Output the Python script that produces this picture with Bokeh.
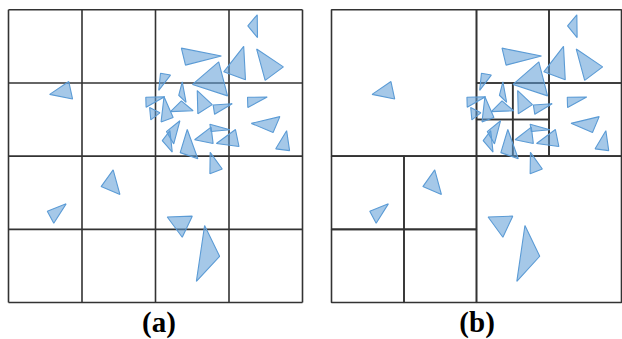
from bokeh.plotting import figure
from bokeh.layouts import row
from bokeh.models import Range1d
from bokeh.core.properties import value
from bokeh.embed import file_html
from bokeh.resources import INLINE

# Triangle vertices in a 0..100 domain (x to the right, y upward)
tri_x = [
    [84.6, 81.4, 84.7], [58.8, 72.4, 60.2], [80.0, 73.2, 80.6], [84.4, 93.5, 87.3],
    [71.5, 62.6, 74.5], [51.7, 55.1, 51.1], [46.7, 53.1, 46.8], [48.0, 51.5, 48.4],
    [52.9, 56.0, 51.9], [59.1, 57.9, 60.4], [55.1, 58.8, 62.8], [64.2, 69.3, 64.4],
    [69.6, 76.1, 70.1], [81.3, 88.0, 81.4], [82.6, 92.3, 90.0], [94.6, 95.6, 90.9],
    [63.3, 68.9, 69.6], [68.5, 75.3, 68.9], [70.7, 77.2, 78.4], [58.4, 60.8, 64.4],
    [68.6, 72.7, 68.5], [53.7, 58.3, 56.2], [52.3, 54.9, 55.7], [14.0, 20.5, 21.8],
    [35.6, 31.5, 37.9], [13.2, 19.6, 15.4], [54.0, 62.5, 59.1], [66.7, 71.8, 63.9],
]
tri_y = [
    [98.3, 94.5, 90.5], [86.9, 84.2, 81.1], [87.5, 78.8, 76.1], [86.6, 80.5, 75.9],
    [82.2, 74.5, 70.6], [78.3, 77.7, 72.5], [70.1, 70.3, 66.7], [66.6, 64.8, 62.4],
    [70.3, 63.2, 61.7], [75.4, 70.8, 68.4], [65.2, 68.9, 65.5], [72.4, 67.6, 64.5],
    [67.5, 67.9, 64.3], [70.1, 70.2, 66.6], [61.2, 63.5, 58.1], [58.7, 51.9, 52.5],
    [55.6, 59.9, 54.3], [60.9, 59.0, 58.4], [54.3, 59.1, 53.3], [51.2, 59.1, 49.1],
    [51.3, 45.6, 44.0], [58.4, 62.1, 54.2], [55.3, 58.7, 51.4], [71.1, 75.5, 69.5],
    [45.3, 39.6, 36.9], [31.2, 33.7, 27.1], [29.2, 29.5, 22.3], [26.3, 15.8, 7.2],
]

# (a) uniform grid: cell boundaries
grid_edges = [0, 25, 50, 75, 100]

# (b) quadtree leaf cells: left, right, bottom, top
qt_left   = [0,  0,  25, 0,  25, 50,  50, 75,  75,  50,   62.5, 50,   62.5]
qt_right  = [50, 25, 50, 25, 50, 100, 75, 100, 100, 62.5, 75,   62.5, 75]
qt_bottom = [50, 25, 25, 0,  0,  0,   75, 75,  50,  62.5, 62.5, 50,   50]
qt_top    = [100, 50, 50, 25, 25, 50, 100, 100, 75, 75,   75,   62.5, 62.5]

panel_labels = ["(a)", "(b)"]

FILL = "#5B9BD5"
EDGE = "#5B9BD5"
GRID = "#333333"
H = 339
SY = 2.927
Y_TOP = 100 + 9.3 / SY


def base_fig(width, x_start, sx):
    p = figure(width=width, height=H,
               x_range=Range1d(x_start, x_start + width / sx),
               y_range=Range1d(Y_TOP - H / SY, Y_TOP),
               x_axis_type=None, y_axis_type=None,
               output_backend="svg", toolbar_location=None,
               min_border=0, outline_line_color=None,
               background_fill_color="white", border_fill_color="white")
    p.grid.visible = False
    return p


def add_triangles(p):
    p.patches(xs=tri_x, ys=tri_y, fill_color=FILL, fill_alpha=0.55,
              line_color=EDGE, line_width=1.1)


def add_label(p, text, x):
    p.text(x=[x], y=[Y_TOP - 321 / SY], text=[text],
           text_font=value("Liberation Serif"),
           text_font_size="29px", text_font_style="bold", text_color="black",
           text_align="center", text_baseline="middle")


# Panel (a)
sxa = 2.94
pa = base_fig(310, -8 / sxa, sxa)
lo, hi = grid_edges[0], grid_edges[-1]
pa.segment(x0=grid_edges, y0=[lo] * len(grid_edges), x1=grid_edges, y1=[hi] * len(grid_edges),
           line_color=GRID, line_width=1.6)
pa.segment(x0=[lo] * len(grid_edges), y0=grid_edges, x1=[hi] * len(grid_edges), y1=grid_edges,
           line_color=GRID, line_width=1.6)
add_triangles(pa)
add_label(pa, panel_labels[0], 51.2)

# Panel (b)
sxb = 2.9
pb = base_fig(312, -21 / sxb, sxb)
pb.quad(left=qt_left, right=qt_right, bottom=qt_bottom, top=qt_top,
        fill_color=None, line_color=GRID, line_width=1.6)
add_triangles(pb)
add_label(pb, panel_labels[1], 50.2)

layout = row(pa, pb, spacing=0)
open("out.html", "w").write(file_html(layout, INLINE))
